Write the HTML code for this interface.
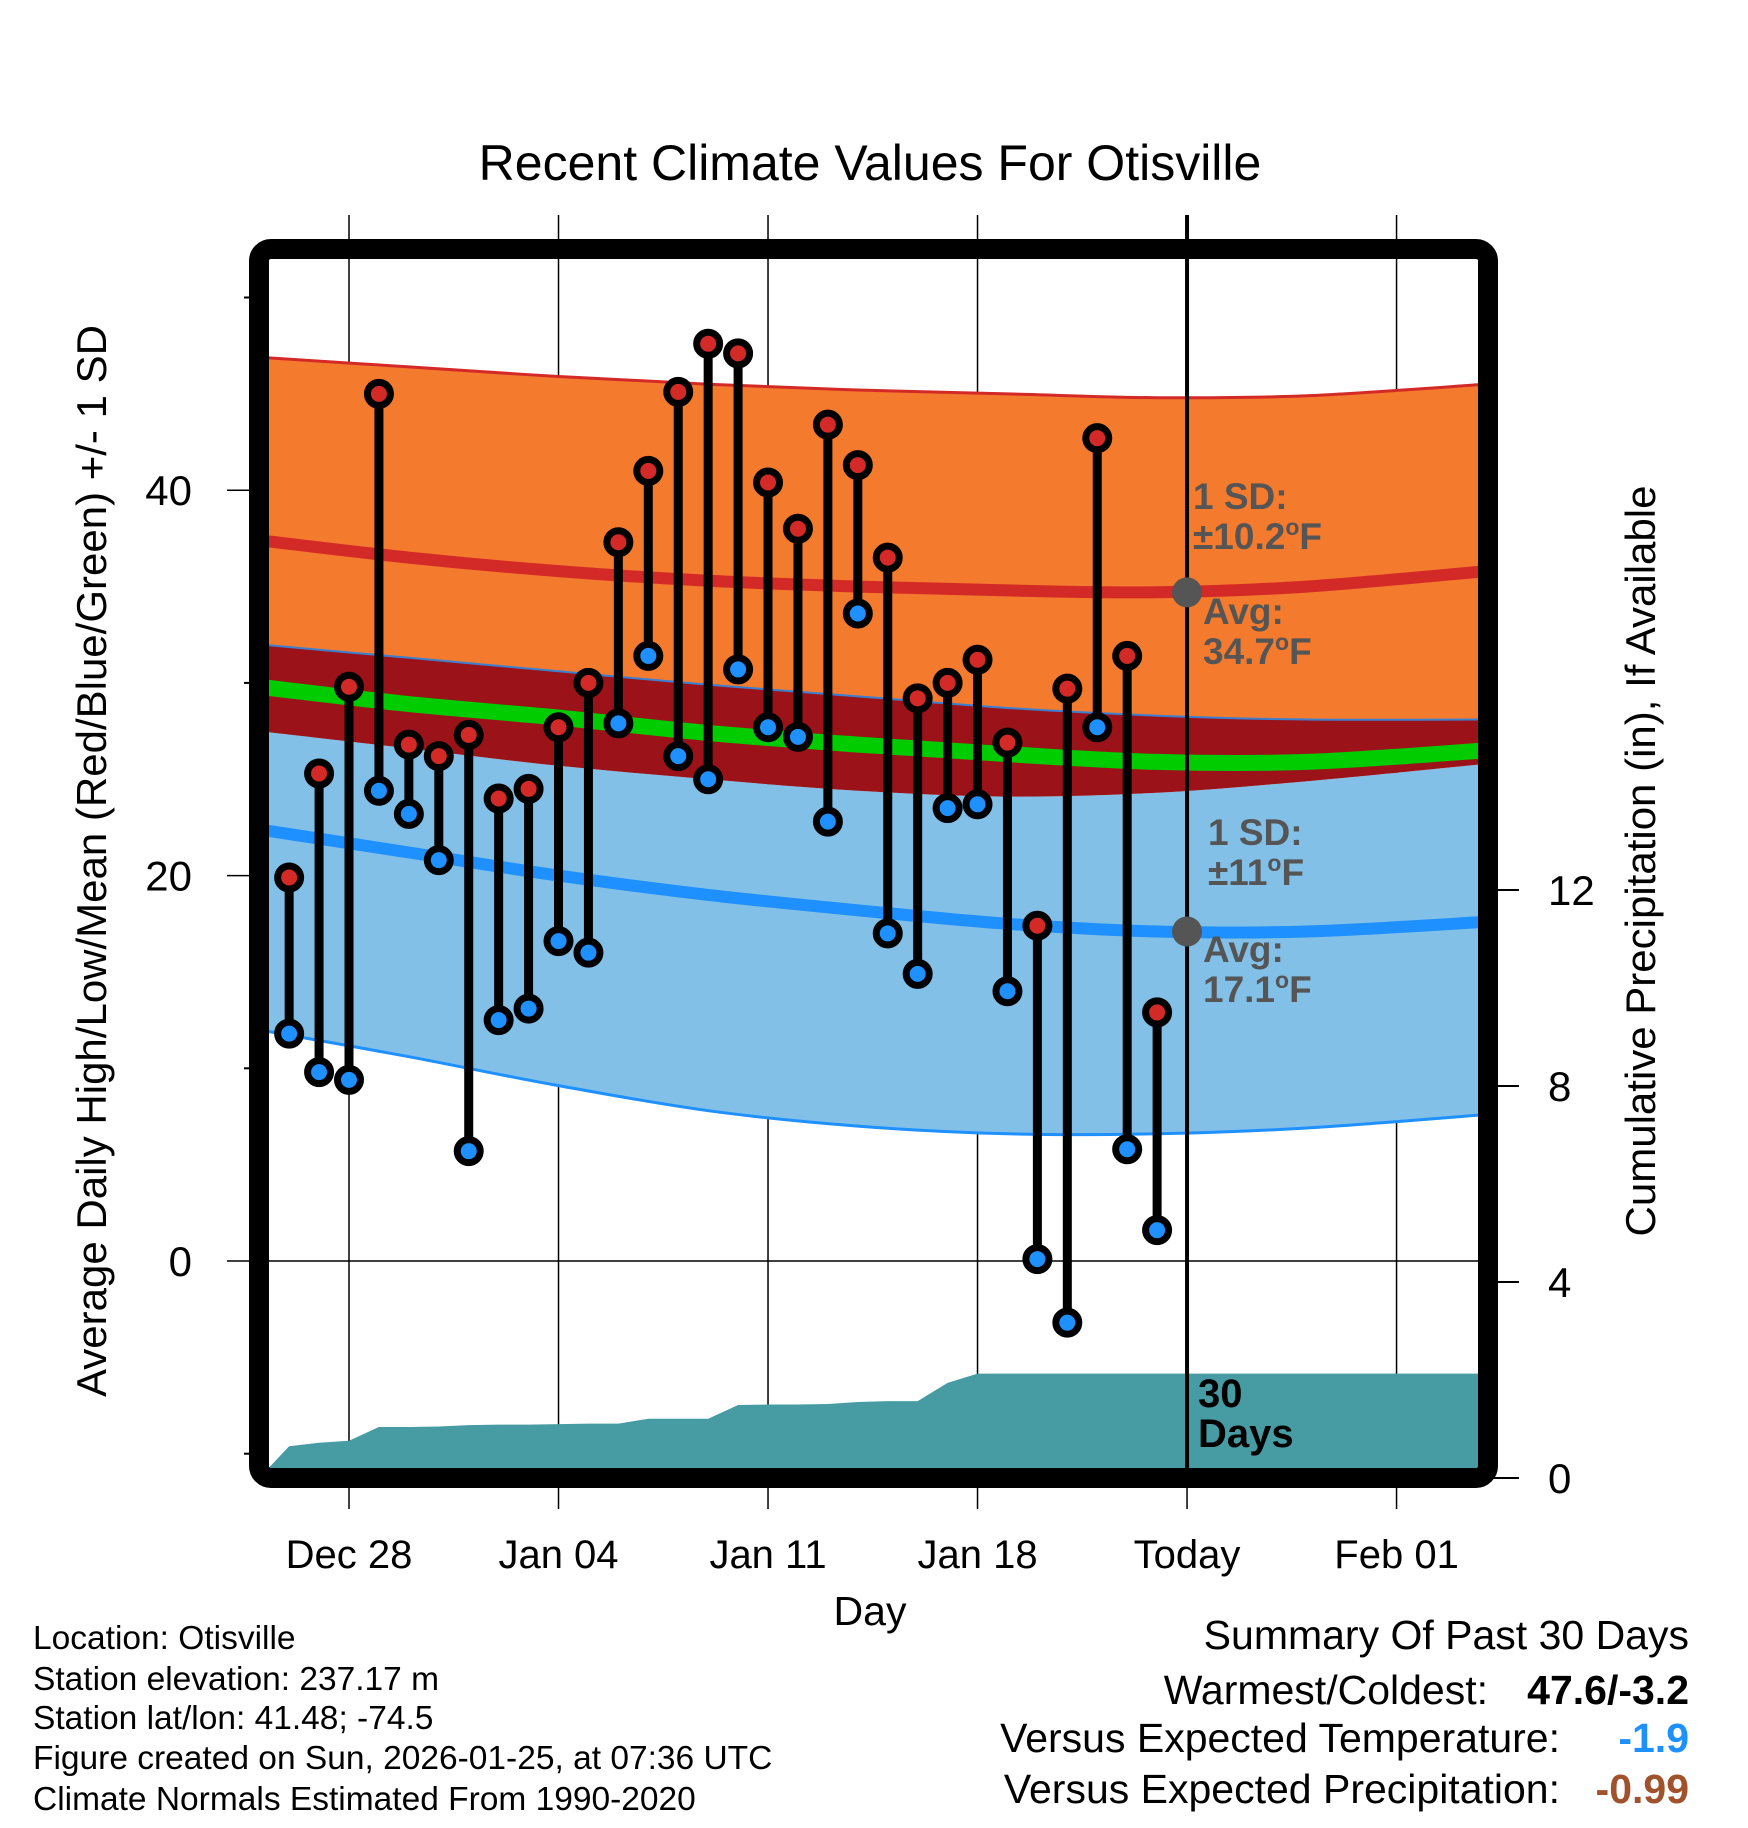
<!DOCTYPE html>
<html><head><meta charset="utf-8"><style>
body{margin:0;background:#fff}
svg{display:block;font-family:"Liberation Sans",sans-serif}
</style></head><body>
<svg id="chart" width="1748" height="1828" viewBox="0 0 1748 1828" xmlns="http://www.w3.org/2000/svg">
<defs><clipPath id="pc"><rect x="269" y="259" width="1209" height="1209"/></clipPath></defs>
<text x="870" y="180" font-size="50" text-anchor="middle">Recent Climate Values For Otisville</text>
<g id="grid"></g>
<g id="plot" clip-path="url(#pc)"></g>
<g id="over"></g>
<rect x="259" y="249" width="1229" height="1229" rx="12" fill="none" stroke="#000" stroke-width="20"/>
<g id="axes"></g>
<text transform="translate(106,861) rotate(-90)" font-size="42" text-anchor="middle">Average Daily High/Low/Mean (Red/Blue/Green) +/- 1 SD</text>
<text transform="translate(1655,861) rotate(-90)" font-size="42" text-anchor="middle">Cumulative Precipitation (in), If Available</text>
<text x="870" y="1625" font-size="41" text-anchor="middle">Day</text>
<g font-size="33.5">
<text x="33" y="1649">Location: Otisville</text>
<text x="33" y="1690">Station elevation: 237.17 m</text>
<text x="33" y="1729">Station lat/lon: 41.48; -74.5</text>
<text x="33" y="1769">Figure created on Sun, 2026-01-25, at 07:36 UTC</text>
<text x="33" y="1810">Climate Normals Estimated From 1990-2020</text>
</g>
<g font-size="41" text-anchor="end">
<text x="1689" y="1649">Summary Of Past 30 Days</text>
<text x="1488" y="1704">Warmest/Coldest:</text>
<text x="1689" y="1704" font-weight="bold">47.6/-3.2</text>
<text x="1560" y="1752">Versus Expected Temperature:</text>
<text x="1689" y="1752" font-weight="bold" fill="#1E90FF">-1.9</text>
<text x="1560" y="1803">Versus Expected Precipitation:</text>
<text x="1689" y="1803" font-weight="bold" fill="#A0522D">-0.99</text>
</g>
</svg>
<script>
// day offsets relative to Dec 28
const obsDays=[-2,-1,0,1,2,3,4,5,6,7,8,9,10,11,12,13,14,15,16,17,18,19,20,21,22,23,24,25,26,27];
const highs=[19.9,25.3,29.8,45.0,26.8,26.2,27.3,24.0,24.5,27.7,30.0,37.3,41.0,45.1,47.6,47.1,40.4,38.0,43.4,41.3,36.5,29.2,30.0,31.2,26.9,17.4,29.7,42.7,31.4,12.9];
const lows=[11.8,9.8,9.4,24.4,23.2,20.8,5.7,12.5,13.1,16.6,16.0,27.9,31.4,26.2,25.0,30.7,27.7,27.2,22.8,33.6,17.0,14.9,23.5,23.7,14.0,0.1,-3.2,27.7,5.8,1.6];
const precip=[0.65,0.72,0.76,1.04,1.04,1.05,1.08,1.09,1.09,1.10,1.11,1.11,1.21,1.21,1.21,1.49,1.50,1.50,1.51,1.55,1.57,1.57,1.94,2.13,2.13,2.13,2.13,2.13,2.13,2.13];
const normDays=[-3,2,7,12,17,22,27,32,38];
const highUpper=[46.9,46.4,45.9,45.5,45.2,45.0,44.8,44.9,45.5];
const highMean=[37.4,36.5,35.8,35.3,35.0,34.8,34.7,35.0,35.8];
const highLower=[27.5,26.6,25.7,25.0,24.4,24.1,24.3,24.9,25.8];
const lowUpper=[32.0,31.3,30.6,29.9,29.3,28.7,28.3,28.1,28.1];
const meanMean=[29.8,28.9,28.2,27.4,26.8,26.3,25.9,25.9,26.5];
const lowMean=[22.4,21.2,20.0,19.0,18.2,17.5,17.1,17.1,17.6];
const lowLower=[12.0,10.6,9.1,7.8,7.0,6.6,6.6,6.9,7.6];
const xTickDays=[0,7,14,21,28,35];
const xTickLabels=["Dec 28","Jan 04","Jan 11","Jan 18","Today","Feb 01"];
const yTicks=[0,20,40];
const yMinor=[-10,10,30,50];
const pTicks=[0,4,8,12];
const todayDay=28;
const todayHighAvg=34.7, todayLowAvg=17.1;

const NS="http://www.w3.org/2000/svg";
const X=d=>349+d*29.93;
const Y=v=>1261-v*19.27;
const YP=p=>1478-p*49;
function mk(parent,tag,attrs){const e=document.createElementNS(NS,tag);for(const k in attrs)e.setAttribute(k,attrs[k]);document.getElementById(parent).appendChild(e);return e;}
function pts(arr){return arr.map((v,i)=>[X(normDays[i]),Y(v)]);}
function smooth(p){let d='M'+p[0][0].toFixed(1)+','+p[0][1].toFixed(1);
  for(let i=0;i<p.length-1;i++){const p0=p[i-1]||p[i],p1=p[i],p2=p[i+1],p3=p[i+2]||p2;
    const c1=[p1[0]+(p2[0]-p0[0])/6,p1[1]+(p2[1]-p0[1])/6],c2=[p2[0]-(p3[0]-p1[0])/6,p2[1]-(p3[1]-p1[1])/6];
    d+=' C'+c1.map(n=>n.toFixed(1))+' '+c2.map(n=>n.toFixed(1))+' '+p2.map(n=>n.toFixed(1));}
  return d;}
function line(arr){return smooth(pts(arr));}
function band(top,bot){const b=pts(bot).reverse();return line(top)+' L'+b[0].map(n=>n.toFixed(1))+' '+smooth(b).slice(1)+' Z';}

xTickDays.forEach((d,i)=>{
  const g=mk('grid','line',{x1:X(d),x2:X(d),y1:215,y2:1509,stroke:'#000','stroke-width':1.5});
  
  
  const t=mk('axes','text',{x:X(d),y:1568,'font-size':40,'text-anchor':'middle'});
  t.textContent=xTickLabels[i];
  
  
});
yTicks.forEach(v=>{
  const g=mk('grid','line',{x1:227,x2:1478,y1:Y(v),y2:Y(v),stroke:'#000','stroke-width':1.5});
  
  
  const t=mk('axes','text',{x:192,y:Y(v)+15,'font-size':42,'text-anchor':'end'});
  t.textContent=v;
  
  
});
yMinor.forEach(v=>{
  const g=mk('axes','line',{x1:244,x2:259,y1:Y(v),y2:Y(v),stroke:'#000','stroke-width':2});
  
  
});
pTicks.forEach(p=>{
  const g=mk('axes','line',{x1:1488,x2:1519,y1:YP(p),y2:YP(p),stroke:'#000','stroke-width':2});
  
  
  const t=mk('axes','text',{x:1548,y:YP(p)+15,'font-size':42});
  t.textContent=p;
  
  
});

let e;
e=mk('plot','path',{d:band(highUpper,lowUpper),fill:'#F47A2D'});


e=mk('plot','path',{d:band(highLower,lowLower),fill:'#82C0E8'});


e=mk('plot','path',{d:band(lowUpper,highLower),fill:'#9B1218'});


e=mk('plot','path',{d:line(highUpper),fill:'none',stroke:'#D42A27','stroke-width':3});


e=mk('plot','path',{d:line(lowUpper),fill:'none',stroke:'#3a7fd0','stroke-width':2});


e=mk('plot','path',{d:line(lowLower),fill:'none',stroke:'#1E90FF','stroke-width':3});


e=mk('plot','path',{d:line(highMean),fill:'none',stroke:'#D42A27','stroke-width':12});


e=mk('plot','path',{d:line(meanMean),fill:'none',stroke:'#00CC00','stroke-width':16});


e=mk('plot','path',{d:line(lowMean),fill:'none',stroke:'#1E90FF','stroke-width':12});



let pd='M'+X(-3)+','+YP(0);
precip.forEach((p,i)=>{pd+=' L'+X(obsDays[i]).toFixed(1)+','+YP(p).toFixed(1);});
pd+=' L'+X(40)+','+YP(precip[precip.length-1]).toFixed(1)+' L'+X(40)+','+YP(0)+' Z';
e=mk('plot','path',{d:pd,fill:'#479CA4'});



e=mk('over','line',{x1:X(todayDay),x2:X(todayDay),y1:215,y2:1478,stroke:'#000','stroke-width':4});



obsDays.forEach((d,i)=>{
  const s=mk('over','line',{x1:X(d),x2:X(d),y1:Y(highs[i]),y2:Y(lows[i]),stroke:'#000','stroke-width':9});
  
  
});
obsDays.forEach((d,i)=>{
  const h=mk('over','circle',{cx:X(d),cy:Y(highs[i]),r:11.5,fill:'#D42A27',stroke:'#000','stroke-width':7});
  
  
  const l=mk('over','circle',{cx:X(d),cy:Y(lows[i]),r:11.5,fill:'#1E90FF',stroke:'#000','stroke-width':7});
  
  
});
e=mk('over','circle',{cx:X(todayDay),cy:Y(todayHighAvg),r:15,fill:'#555'});


e=mk('over','circle',{cx:X(todayDay),cy:Y(todayLowAvg),r:15,fill:'#555'});



function label(x,y,lines,name,fill,fs){
  const t=mk('over','text',{x:x,y:y,'font-size':fs||37,'font-weight':'bold',fill:fill});
  
  
  lines.forEach((s,i)=>{const ts=document.createElementNS(NS,'tspan');ts.setAttribute('x',x);ts.setAttribute('dy',i?40:0);ts.innerHTML=s;t.appendChild(ts);});
}
label(1193,509,['1 SD:','&#177;10.2<tspan dy="-14" font-size="23">o</tspan><tspan dy="14">F</tspan>'],'high-sd-label','#555');
label(1203,624,['Avg:','34.7<tspan dy="-14" font-size="23">o</tspan><tspan dy="14">F</tspan>'],'high-avg-label','#555');
label(1208,845,['1 SD:','&#177;11<tspan dy="-14" font-size="23">o</tspan><tspan dy="14">F</tspan>'],'low-sd-label','#555');
label(1203,962,['Avg:','17.1<tspan dy="-14" font-size="23">o</tspan><tspan dy="14">F</tspan>'],'low-avg-label','#555');
label(1198,1407,['30','Days'],'precip-days-label','#000',40);
</script>
</body></html>
